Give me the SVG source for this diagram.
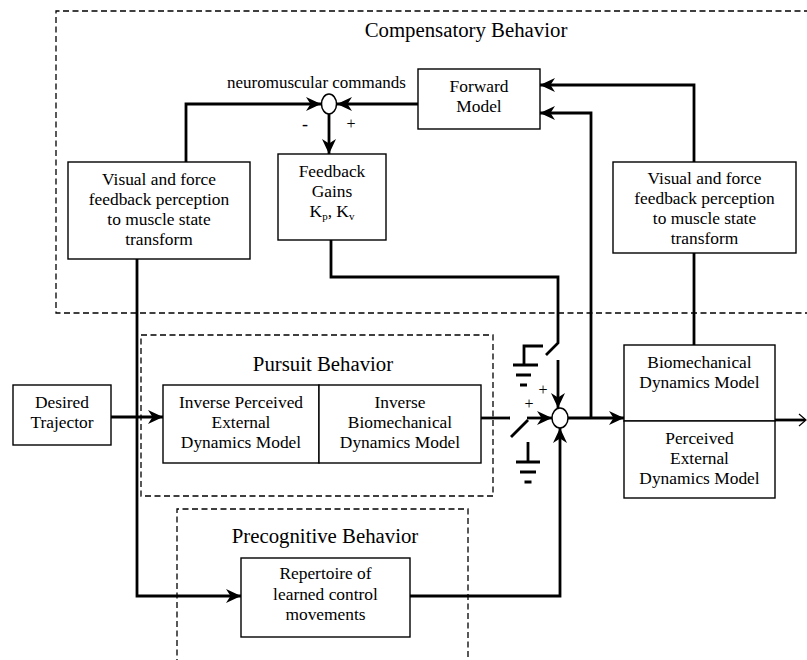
<svg xmlns="http://www.w3.org/2000/svg" width="807" height="660" viewBox="0 0 807 660">
<defs>
<marker id="ah" viewBox="0 0 15 14" refX="15" refY="7" markerWidth="15" markerHeight="14" orient="auto" markerUnits="userSpaceOnUse">
<path d="M0,0 L15,7 L0,14 L4.5,7 Z" fill="#000"/>
</marker>
<style>
text{font-family:"Liberation Serif","Times New Roman",serif;fill:#000;text-anchor:middle}
.t{font-size:17.4px}
.h{font-size:20.8px}
.box{fill:#fff;stroke:#000;stroke-width:1.4}
.dash{fill:none;stroke:#000;stroke-width:1.3;stroke-dasharray:6 3.5}
.c{fill:none;stroke:#000;stroke-width:2.8}
.arr{marker-end:url(#ah)}
.sum{fill:#fff;stroke:#000;stroke-width:1.5}
</style>
</defs>
<rect width="807" height="660" fill="#fff"/>

<g id="regions">
<path class="dash" d="M810,11 H56 V313 H810"/>
<text class="h" x="466" y="37">Compensatory Behavior</text>
<rect class="dash" x="141" y="335" width="352" height="161"/>
<text class="h" x="323" y="371">Pursuit Behavior</text>
<path class="dash" d="M177,665 V509 H468 V665"/>
<text class="h" x="325" y="543">Precognitive Behavior</text>
</g>

<g id="connectors">
<path class="c arr" d="M111,417 H163"/>
<path class="c" d="M481,418 H510"/>
<path class="c" d="M511,437 L528,420"/>
<path class="c arr" d="M527,418 H552"/>
<path class="c" d="M528,442 V462 M516,462 H540 M520,472 H536 M524.5,482 H531.5"/>
<path class="c" d="M331,240 V277 H558 V343 L546,355"/>
<path class="c" d="M524,364 V346 H543 M513,365 H538 M516,375 H531 M520,385 H527"/>
<path class="c arr" d="M558,360 V408"/>
<path class="c arr" d="M410,596 H560 V428"/>
<path class="c arr" d="M568,418 H624"/>
<path class="c arr" d="M591,418 V113 H540"/>
<path class="c" d="M694,345 V253"/>
<path class="c arr" d="M694,162 V85 H540"/>
<path class="c arr" d="M418,104 H337"/>
<path class="c arr" d="M186,162 V104 H321"/>
<path class="c arr" d="M329,114 V154"/>
<path class="c arr" d="M137,259 V596 H241"/>
<path class="c" d="M775,420 H805"/>
<path d="M799,414 L806,420 L799,426" fill="none" stroke="#000" stroke-width="1.2"/>
</g>

<g id="sum-top">
<ellipse class="sum" cx="329" cy="104" rx="7.5" ry="10"/>
<text style="font-size:17px" x="316.5" y="88">neuromuscular commands</text>
<text style="font-size:18px" x="305" y="130">-</text>
<text style="font-size:16px" x="351" y="129">+</text>
</g>

<g id="sum-main">
<ellipse class="sum" cx="560" cy="418" rx="8" ry="10"/>
<text style="font-size:16px" x="543" y="395">+</text>
<text style="font-size:16px" x="529" y="409">+</text>
</g>

<g id="forward-model">
<rect class="box" x="418" y="69" width="122" height="60"/>
<text class="t" x="479" y="92">Forward</text>
<text class="t" x="479" y="112">Model</text>
</g>

<g id="visual-left">
<rect class="box" x="68" y="162" width="182" height="97"/>
<text class="t" x="159" y="185">Visual and force</text>
<text class="t" x="159" y="205">feedback perception</text>
<text class="t" x="159" y="225">to muscle state</text>
<text class="t" x="159" y="245">transform</text>
</g>

<g id="feedback-gains">
<rect class="box" x="278" y="154" width="108" height="86"/>
<text class="t" x="332" y="177">Feedback</text>
<text class="t" x="332" y="197">Gains</text>
<text class="t" x="332" y="217">K<tspan font-size="11" dy="3">p</tspan><tspan dy="-3">, K</tspan><tspan font-size="11" dy="3">v</tspan></text>
</g>

<g id="visual-right">
<rect class="box" x="613" y="162" width="183" height="91"/>
<text class="t" x="704.5" y="184">Visual and force</text>
<text class="t" x="704.5" y="204">feedback perception</text>
<text class="t" x="704.5" y="224">to muscle state</text>
<text class="t" x="704.5" y="244">transform</text>
</g>

<g id="desired">
<rect class="box" x="13" y="385" width="98" height="60"/>
<text class="t" x="62" y="408">Desired</text>
<text class="t" x="62" y="428">Trajector</text>
</g>

<g id="inverse-perceived">
<rect class="box" x="163" y="385" width="156" height="78"/>
<text class="t" x="241" y="408">Inverse Perceived</text>
<text class="t" x="241" y="428">External</text>
<text class="t" x="241" y="448">Dynamics Model</text>
</g>

<g id="inverse-biomech">
<rect class="box" x="319" y="385" width="162" height="78"/>
<text class="t" x="400" y="408">Inverse</text>
<text class="t" x="400" y="428">Biomechanical</text>
<text class="t" x="400" y="448">Dynamics Model</text>
</g>

<g id="biomech">
<rect class="box" x="624" y="345" width="151" height="76"/>
<text class="t" x="699.5" y="368">Biomechanical</text>
<text class="t" x="699.5" y="388">Dynamics Model</text>
</g>

<g id="perceived-external">
<rect class="box" x="624" y="421" width="151" height="77"/>
<text class="t" x="699.5" y="444">Perceived</text>
<text class="t" x="699.5" y="464">External</text>
<text class="t" x="699.5" y="484">Dynamics Model</text>
</g>

<g id="repertoire">
<rect class="box" x="241" y="558" width="169" height="79"/>
<text class="t" x="325.5" y="579">Repertoire of</text>
<text class="t" x="325.5" y="600">learned control</text>
<text class="t" x="325.5" y="620">movements</text>
</g>
</svg>
